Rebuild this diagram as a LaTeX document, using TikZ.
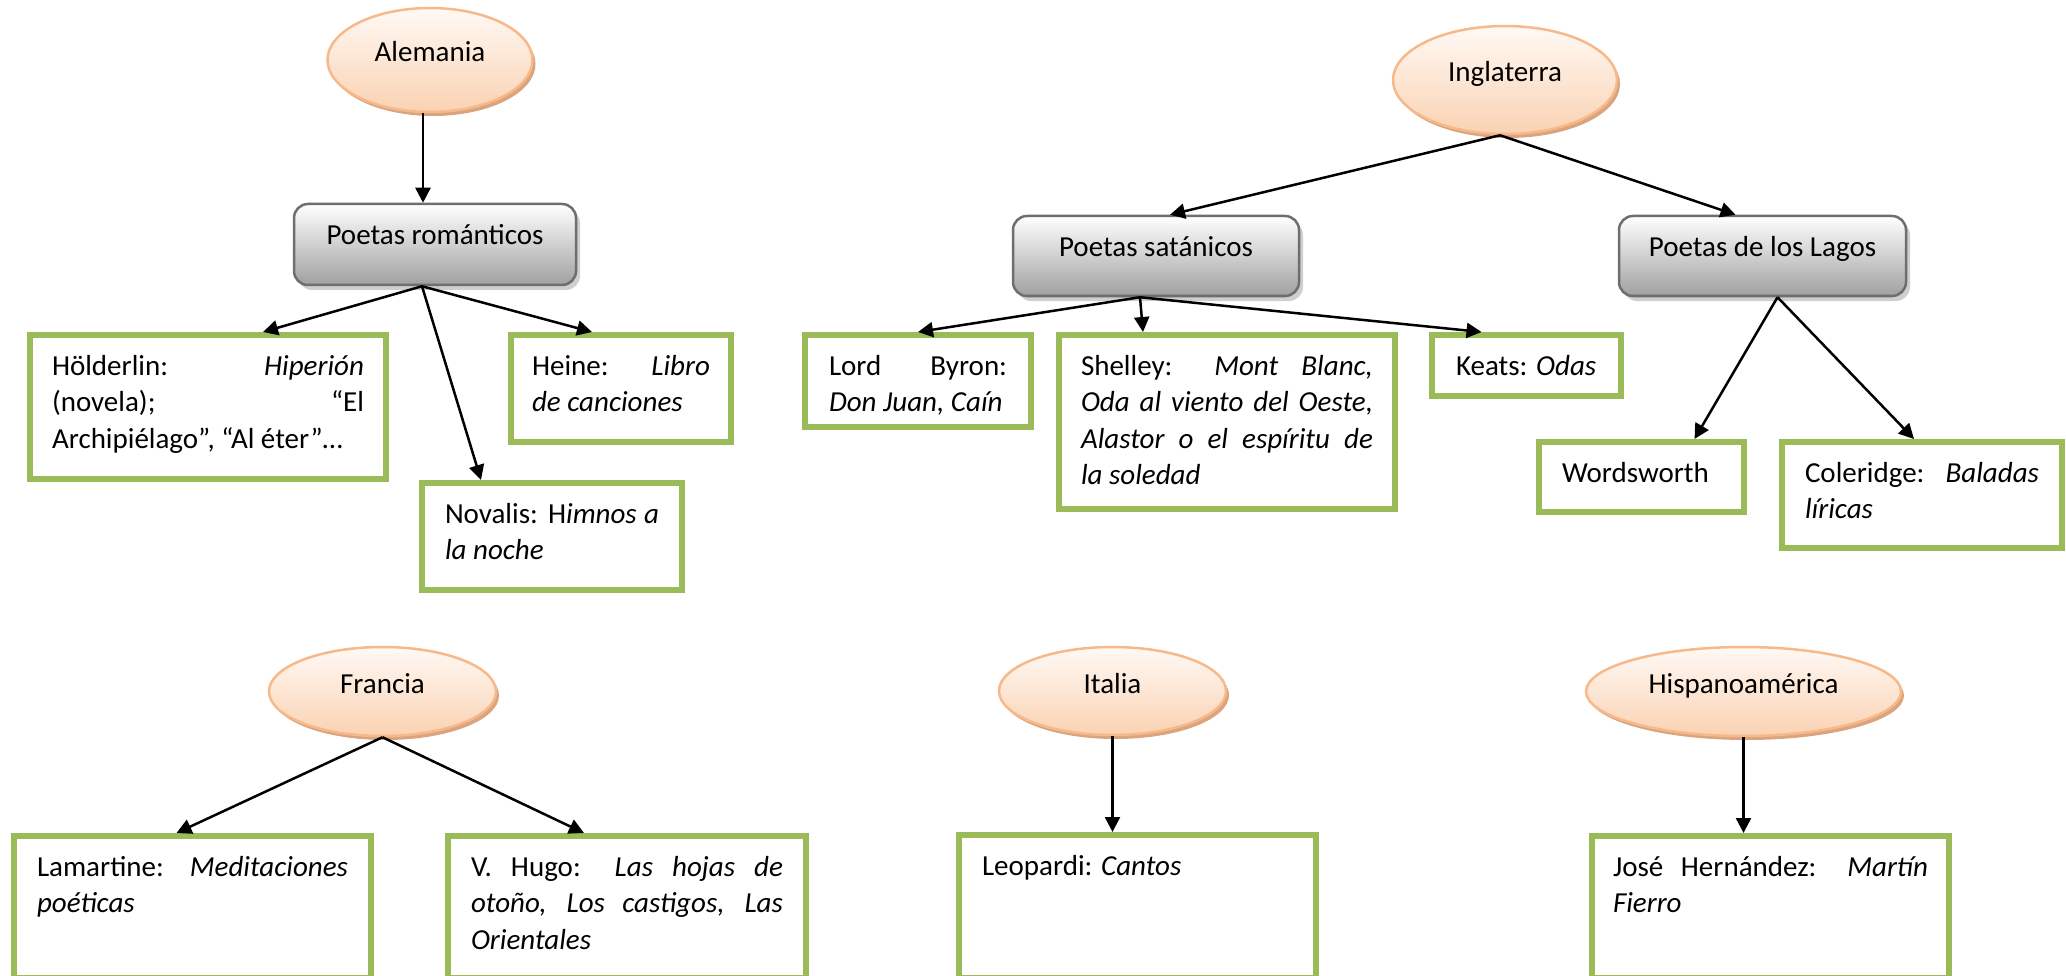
\documentclass[tikz,border=0pt]{standalone}
\usepackage{fontspec}
\setmainfont{Carlito}
\usetikzlibrary{shapes.geometric, arrows.meta, shadows}
\definecolor{gborder}{HTML}{9BBB59}
\definecolor{pborder}{HTML}{F7B98A}
\definecolor{pfilltop}{HTML}{FFF9F5}
\definecolor{pfillbot}{HTML}{FAD2B2}
\definecolor{pshadow}{HTML}{D9A47E}
\definecolor{boxborder}{HTML}{6E6E6E}
\definecolor{boxbot}{HTML}{A0A0A0}
\definecolor{boxshadow}{HTML}{CFCFCF}
\newcommand{\jl}[1]{\hbox to \linewidth{#1}}
\newcommand{\GreenBox}[7]{%
  \pgfmathsetmacro{\gbw}{#4-#2-6}%
  \pgfmathsetmacro{\gbh}{#5-#3-6}%
  \pgfmathsetmacro{\gbH}{#5-#3-6-30}%
  \node[gbox, minimum width=\gbw pt, minimum height=\gbh pt] (#1) at ({#2+3},{#3+3}) {\parbox[t][\gbH pt][t]{#6pt}{#7}};}
\tikzset{
  country/.style={ellipse, draw=pborder, line width=2.5pt, top color=pfilltop, bottom color=pfillbot,
    inner sep=0pt, text height=17pt, text depth=13pt,
    drop shadow={shadow xshift=3pt, shadow yshift=-4pt, fill=pshadow, opacity=1}},
  group/.style={rectangle, rounded corners=14pt, draw=boxborder, line width=2.5pt, top color=white,
    bottom color=boxbot, inner sep=0pt, text height=18pt, text depth=17pt,
    drop shadow={shadow xshift=4pt, shadow yshift=-5pt, fill=boxshadow, opacity=1}},
  gbox/.style={rectangle, draw=gborder, line width=6pt, fill=white, inner xsep=0pt, inner ysep=15pt, anchor=north west},
  arr/.style={line width=2.5pt, -{Triangle[length=15pt,width=15pt]}},
}
\begin{document}
\begin{tikzpicture}[x=1pt, y=-1pt, every node/.style={font=\fontsize{29}{36.3}\selectfont}]
\useasboundingbox (0,0) rectangle (2066,976);
% countries
\node[country, minimum width=205pt, minimum height=104pt] (al) at (430,60) {Alemania};
\node[country, minimum width=224pt, minimum height=108pt] (in) at (1505,80) {Inglaterra};
\node[country, minimum width=227pt, minimum height=89pt] (fr) at (382.5,691.5) {Francia};
\node[country, minimum width=227pt, minimum height=88pt] (it) at (1112.5,691) {Italia};
\node[country, minimum width=315pt, minimum height=89pt] (hi) at (1743.5,691.5) {Hispanoamérica};
% groups
\node[group, minimum width=282pt, minimum height=81pt] (pr) at (435,244.5) {Poetas románticos};
\node[group, minimum width=286pt, minimum height=80pt] (ps) at (1156,256) {Poetas satánicos};
\node[group, minimum width=287pt, minimum height=80pt] (pl) at (1762.5,256) {Poetas de los Lagos};
% authors
\GreenBox{ho}{24}{329}{386}{479}{312}{\jl{\strut Hölderlin: \textit{Hiperión}}\jl{(novela); “El}\jl{Archipiélago”, “Al éter”…\hfil}}
\GreenBox{he}{505}{329}{731}{442}{178}{\jl{\strut Heine: \textit{Libro}}\jl{\textit{de canciones}\hfil}}
\GreenBox{no}{416}{477}{682}{590}{214}{\jl{\strut Novalis: H\textit{imnos a}}\jl{\textit{la noche}\hfil}}
\GreenBox{by}{799}{329}{1031}{427}{178}{\jl{\strut Lord Byron:}\jl{\textit{Don Juan, Caín}\hfil}}
\GreenBox{sh}{1053}{329}{1395}{509}{292}{\jl{\strut Shelley: \textit{Mont Blanc,}}\jl{\textit{Oda al viento del Oeste,}}\jl{\textit{Alastor o el espíritu de}}\jl{\textit{la soledad}\hfil}}
\GreenBox{ke}{1426}{329}{1621}{396}{141}{\jl{\strut Keats: \textit{Odas}\hfil}}
\GreenBox{wo}{1533}{436}{1744}{512}{159}{\jl{\strut Wordsworth\hfil}}
\GreenBox{co}{1776}{436}{2062}{548}{234}{\jl{\strut Coleridge: \textit{Baladas}}\jl{\textit{líricas}\hfil}}
\GreenBox{la}{8}{830}{371}{978}{311}{\jl{\strut Lamartine: \textit{Meditaciones}}\jl{\textit{poéticas}\hfil}}
\GreenBox{hu}{442}{830}{806}{978}{312}{\jl{\strut V. Hugo: \textit{Las hojas de}}\jl{\textit{otoño, Los castigos, Las}}\jl{\textit{Orientales}\hfil}}
\GreenBox{le}{953}{829}{1316}{978}{311}{\jl{\strut Leopardi: \textit{Cantos}\hfil}}
\GreenBox{jo}{1586}{830}{1949}{978}{315}{\jl{\strut José Hernández: \textit{Martín}}\jl{\textit{Fierro}\hfil}}
% connectors
\draw[arr] ([xshift=-7pt]al.south) -- ([xshift=-12pt]pr.north);
\draw[arr] ([xshift=-13pt]pr.south) -- ([xshift=55pt]ho.north);
\draw[arr] ([xshift=-13pt]pr.south) -- ([xshift=-71pt]no.north);
\draw[arr] ([xshift=-13pt]pr.south) -- ([xshift=-29pt]he.north);
\draw[arr] ([xshift=-5pt]in.south) -- ([xshift=14pt]ps.north);
\draw[arr] ([xshift=-5pt]in.south) -- ([xshift=-27pt]pl.north);
\draw[arr] ([xshift=-16pt]ps.south) -- (by.north);
\draw[arr] ([xshift=-16pt]ps.south) -- ([xshift=-84pt]sh.north);
\draw[arr] ([xshift=-16pt]ps.south) -- ([xshift=-45pt]ke.north);
\draw[arr] ([xshift=15pt]pl.south) -- ([xshift=53pt]wo.north);
\draw[arr] ([xshift=15pt]pl.south) -- ([xshift=-8pt]co.north);
\draw[arr] (fr.south) -- ([xshift=-16pt]la.north);
\draw[arr] (fr.south) -- ([xshift=-43pt]hu.north);
\draw[arr] (it.south) -- (it.south |- le.north);
\draw[arr] (hi.south) -- (hi.south |- jo.north);
\end{tikzpicture}
\end{document}
